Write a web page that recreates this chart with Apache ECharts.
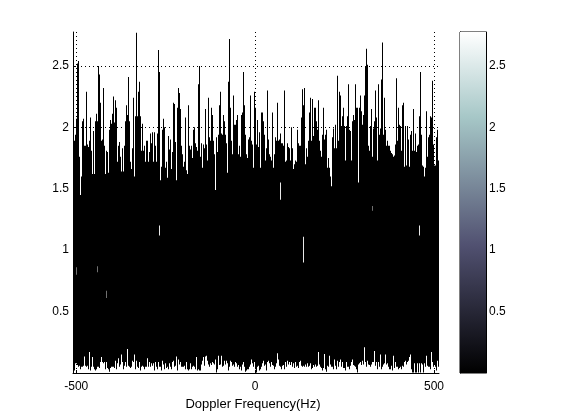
<!DOCTYPE html>
<html><head><meta charset="utf-8">
<script src="https://cdn.jsdelivr.net/npm/echarts@6/dist/echarts.min.js"></script>
<style>html,body{margin:0;padding:0;background:#fff}#c{width:561px;height:420px}</style>
</head><body><div id="c"></div>
<script>
const freqStart = -509, freqEnd = 514, yMax = 2.776;
const xTicks = [-500, 0, 500];
const yTicks = [0.5, 1, 1.5, 2, 2.5];
const xTitle = 'Doppler Frequency(Hz)';
const upperLeft = [1.94,1.89,1.94,2.07,2.52,2.54,1.76,1.45,1.60,2.05,
2.07,1.85,1.85,2.29,1.86,1.84,1.89,2.08,1.81,1.62,
1.97,1.62,2.05,2.11,2.05,2.5,2.43,2.2,1.89,1.9,
2.32,1.85,1.62,1.81,1.8,1.63,1.98,2.06,2.03,2.11,
2.25,2.04,2.22,2.16,1.72,1.85,1.88,1.76,1.64,1.83,
1.64,1.85,2.05,2.18,2.1,2.41,2.05,1.72,1.66,1.83,
2.24,1.6,2.09,2.77,2.09,2.29,2.37,2.09,1.81,2.03,
1.81,1.85,1.72,1.89,1.89,1.72,1.8,1.95,1.87,1.96,
1.72,1.96,1.85,1.72,1.95,2.63,2.45,1.57,1.68,1.98,
2.07,2.0,1.67,1.72,1.59,1.93,1.82,1.9,1.66,1.8,
2.2,2.19,1.88,1.57,2.16,2.32,2.28,2.15,1.85,1.78,
1.68,1.72,2.08,1.65,1.62,2.18,1.85,1.82,1.85,1.75,
1.98,2.0];
const upperMiddle = [1.87,1.84,1.81,2.35,2.5,1.76,1.87,1.67,1.86,1.83,
2.15,1.86,1.73,2.24,1.92,1.89,2.16,2.1,1.89,1.78,
1.49,1.92,1.8,1.94,2.18,2.29,1.95,1.94,2.1,2.05,
1.94,1.87,1.63,2.37,2.72,2.16,1.89,1.78,2.26,2.02,
2.02,2.06,2.1,1.78,1.85,1.76,2.1,2.12,2.45,2.18,
1.94,1.78,1.75,1.9,1.92,2.26,1.89,1.86,1.67,2.29,
2.16,1.86,2.06,1.84,1.96,1.67,2.12,2.12,2.05,1.94,
1.73,1.83,2.3,1.9,1.78,1.76,1.73,2.12,1.67,1.78,
1.92,1.89,2.2,1.89,1.9,1.95,1.87,1.87,1.85,2.3,
1.72,1.73,1.87,1.84,1.83,1.73,2.0,1.83,1.66,1.7,
1.73,1.72,1.98,1.87,1.85,1.85,2.08,2.31,2.18,2.32,
1.7,1.83,1.76,1.89,2.12,2.24,1.89,2.23,1.93,2.16];
const upperRight = [2.16,2.05,1.98,2.22,1.89,1.81,1.76,1.94,2.16,1.9,
1.94,1.98,1.67,1.75,1.67,1.6,1.52,1.92,1.99,1.83,
2.02,1.83,2.42,1.89,2.29,2.26,2.01,2.09,2.16,2.01,
1.73,2.01,2.09,2.35,1.98,1.97,1.73,2.05,2.1,2.06,
2.35,2.16,2.16,1.55,2.16,2.26,2.13,2.02,2.1,2.26,
2.5,2.64,2.51,1.85,1.81,2.01,2.15,1.76,1.99,2.05,
2.3,2.08,1.73,2.35,1.94,1.99,2.39,2.69,1.94,2.24,
1.98,1.85,1.89,1.85,1.85,1.81,1.79,1.78,1.76,1.77,
1.86,2.4,1.89,2.16,2.02,2.01,1.81,2.18,2.2,1.68,
2.01,1.69,2.01,1.9,1.68,1.94,1.97,1.81,2.15,1.81,
1.95,1.8,1.85,1.86,2.09,2.45,1.94,1.69,1.68,1.6,
1.67,2.13,1.76,1.92,1.94,2.09,2.08,2.38,1.86,1.69,
1.69,1.92,1.98,1.73];
const lowerLeft = [.02,.02,.08,.08,.065,.05,.06,.03,.05,.05,
.06,.135,.06,.05,.06,.03,.17,.02,.05,.13,
.05,.03,.02,.03,.05,.05,.04,.09,.13,.09,
.08,.09,.03,.09,.04,.03,.01,.04,.05,.05,
.05,.04,.1,.03,.08,.12,.05,.07,.15,.09,
.03,.06,.09,.05,.195,.06,.05,.04,.05,.1,
.09,.15,.03,.1,.05,.04,.09,.02,.05,.06,
.05,.03,.05,.05,.12,.05,.09,.05,.08,.06,
.08,.02,.09,.05,.03,.09,.05,.05,.02,.1,
.07,.03,.08,.04,.05,.03,.08,.05,.03,.09,
.1,.05,.06,.135,.02,.11,.07,.09,.05,.05,
.05,.06,.03,.09,.03,.02,.03,.08,.03,.05,
.06,.05];
const lowerMiddle = [.03,.13,.02,.03,.02,.02,.07,.1,.13,.06,
.135,.14,.1,.07,.05,.08,.065,.09,.08,.07,
.11,.005,.03,.14,.065,.07,.14,.05,.06,.1,
.07,.1,.08,.02,.05,.1,.09,.06,.07,.05,
.09,.08,.05,.065,.03,.05,.02,.07,.09,.05,
.01,.02,.03,.03,.05,.07,.11,.08,.05,.09,
.03,.005,.05,.06,.02,.03,.05,.08,.1,.06,
.07,.02,.09,.1,.08,.05,.09,.065,.06,.03,
.05,.08,.16,.11,.06,.05,.03,.06,.065,.03,
.09,.05,.1,.07,.09,.065,.09,.05,.08,.04,
.09,.05,.06,.04,.09,.1,.06,.05,.06,.05,
.07,.05,.08,.05,.06,.08,.03,.04,.065,.05];
const lowerRight = [.07,.05,.06,.17,.07,.05,.04,.02,.04,.155,
.03,.01,.06,.05,.14,.07,.05,.05,.03,.11,
.06,.03,.1,.05,.09,.11,.05,.09,.04,.04,
.02,.09,.05,.05,.03,.06,.09,.11,.065,.06,
.05,.03,.005,.07,.08,.09,.065,.1,.07,.21,
.09,.05,.1,.07,.065,.05,.07,.09,.09,.18,
.06,.09,.03,.09,.05,.15,.03,.05,.07,.08,
.15,.07,.08,.05,.03,.03,.06,.02,.14,.04,
.09,.05,.05,.03,.04,.05,.03,.06,.05,.09,
.1,.07,.09,.1,.13,.15,.03,.005,.005,.08,
.005,.005,.08,.005,.08,.005,.08,.07,.005,.08,
.05,.14,.06,.05,.05,.03,.17,.09,.05,.07,
.05,.02,.1,.05];
// Interior light streaks: bin number, low value, high value
const gapBin = [207, 86, 230, 346];
const gapLow = [1.41, 1.12, 0.90, 1.12];
const gapHigh = [1.55, 1.20, 1.11, 1.20];
const faintBin = [299, 3, 24, 33];
const faintLow = [1.32, 0.80, 0.82, 0.61];
const faintHigh = [1.36, 0.86, 0.87, 0.67];
const colorbarStops = [[0,'#000000'],[0.375,'#515171'],[0.75,'#a6c7c7'],[1,'#ffffff']];

const upper = upperLeft.concat(upperMiddle, upperRight);
const lower = lowerLeft.concat(lowerMiddle, lowerRight);
const binHz = (freqEnd - freqStart) / upper.length;
const hz = i => freqStart + i * binHz;
const rows = upper.map((u, i) => [hz(i), lower[i], u]);
const gapRows = gapBin.map((b, i) => [hz(b), gapLow[i], gapHigh[i]]);
const faintRows = faintBin.map((b, i) => [hz(b), faintLow[i], faintHigh[i]]);

function bandRenderer(fill) {
  return function (params, api) {
    const a = api.coord([api.value(0), api.value(2)]);
    const b = api.coord([api.value(0) + binHz, api.value(1)]);
    const x0 = Math.round(a[0]), x1 = Math.round(b[0]);
    return { type: 'rect', shape: { x: x0, y: a[1], width: Math.max(1, x1 - x0), height: b[1] - a[1] }, style: { fill: fill } };
  };
}
const font = { fontFamily: '"Liberation Sans", Arial, sans-serif', fontSize: 12, color: '#000' };
const chart = echarts.init(document.getElementById('c'), null, { renderer: 'canvas' });
chart.setOption({
  animation: false,
  backgroundColor: '#fff',
  grid: [
    { left: 73, top: 32, width: 366, height: 341 },
    { left: 460, top: 32, width: 26, height: 341, show: true, borderColor: '#000', borderWidth: 1, backgroundColor: 'transparent' }
  ],
  xAxis: [
    { type: 'value', gridIndex: 0, min: freqStart, max: freqEnd,
      axisLine: { show: true, onZero: false, lineStyle: { color: '#000', width: 1 } },
      axisTick: { show: true, inside: true, length: 3, customValues: xTicks, lineStyle: { color: '#000' } },
      axisLabel: Object.assign({ customValues: xTicks, margin: 8, formatter: v => String(v) }, font),
      splitLine: { show: true, lineStyle: { color: '#000', type: [1, 3], width: 1 } },
      name: xTitle, nameLocation: 'middle', nameGap: 24,
      nameTextStyle: { fontFamily: font.fontFamily, fontSize: 13, color: '#000', padding: [0, 6, 0, 0] } },
    { type: 'category', gridIndex: 1, data: ['c'], show: false }
  ],
  yAxis: [
    { type: 'value', gridIndex: 0, min: 0, max: yMax,
      axisLine: { show: true, onZero: false, lineStyle: { color: '#000', width: 1 } },
      axisTick: { show: true, inside: true, length: 3, customValues: yTicks, lineStyle: { color: '#000' } },
      axisLabel: Object.assign({ customValues: yTicks, margin: 4, padding: [2, 0, 0, 0], formatter: v => String(v) }, font),
      splitLine: { show: true, lineStyle: { color: '#000', type: [1, 3], width: 1 } } },
    { type: 'value', gridIndex: 1, position: 'right', min: 0, max: yMax,
      axisLine: { show: true, lineStyle: { color: '#000' } },
      axisTick: { show: true, inside: true, length: 3, customValues: yTicks, lineStyle: { color: '#000' } },
      axisLabel: Object.assign({ customValues: yTicks, margin: 3, padding: [2, 0, 0, 0], formatter: v => String(v) }, font),
      splitLine: { show: false } },
    { type: 'value', gridIndex: 1, position: 'left', min: 0, max: yMax,
      axisLine: { show: true, lineStyle: { color: '#000' } },
      axisTick: { show: true, inside: true, length: 3, customValues: yTicks, lineStyle: { color: '#000' } },
      axisLabel: { show: false }, splitLine: { show: false } }
  ],
  series: [
    { type: 'custom', xAxisIndex: 0, yAxisIndex: 0, silent: true, clip: true, renderItem: bandRenderer('#000'), data: rows, encode: { x: 0, y: [1, 2] }, z: 2 },
    { type: 'custom', xAxisIndex: 0, yAxisIndex: 0, silent: true, renderItem: bandRenderer('#e8e8e8'), data: gapRows, encode: { x: 0, y: [1, 2] }, z: 3 },
    { type: 'custom', xAxisIndex: 0, yAxisIndex: 0, silent: true, renderItem: bandRenderer('#707070'), data: faintRows, encode: { x: 0, y: [1, 2] }, z: 3 },
    { type: 'bar', xAxisIndex: 1, yAxisIndex: 1, silent: true, barWidth: '100%', data: [yMax], z: 1,
      itemStyle: { color: new echarts.graphic.LinearGradient(0, 1, 0, 0, colorbarStops.map(s => ({ offset: s[0], color: s[1] }))) } }
  ]
});
</script></body></html>
